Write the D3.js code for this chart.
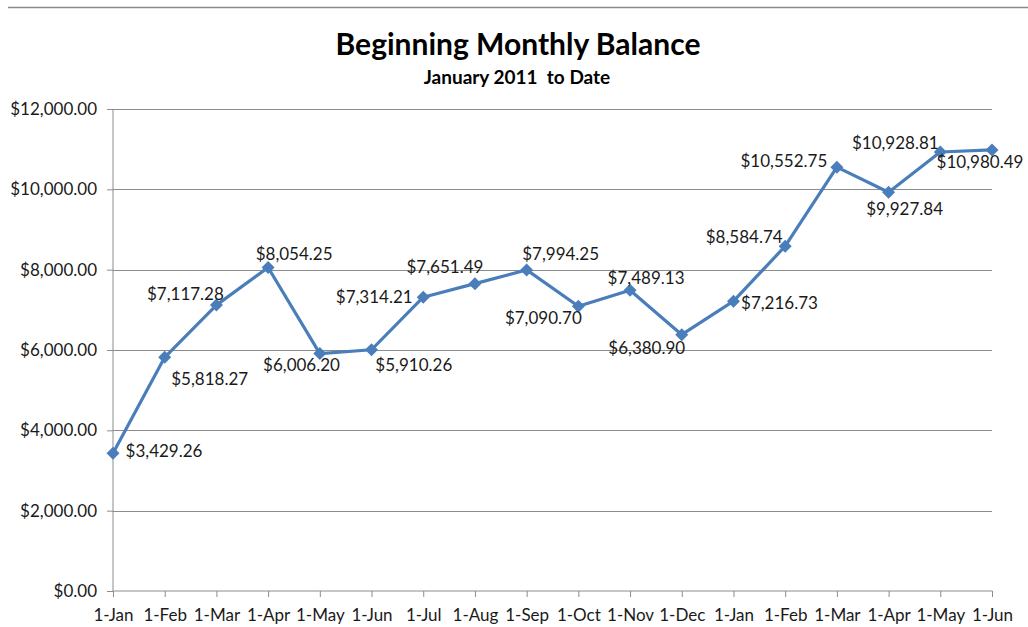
<!DOCTYPE html>
<html>
<head>
<meta charset="utf-8">
<script src="https://cdn.jsdelivr.net/npm/d3@7"></script>
<style>
  body { margin: 0; background: #fff; }
  text { font-family: Lato, "Open Sans", sans-serif; fill: #1a1a1a; }
</style>
</head>
<body>
<div id="chart"></div>
<script>
// data
const months = ["1-Jan", "1-Feb", "1-Mar", "1-Apr", "1-May", "1-Jun", "1-Jul", "1-Aug", "1-Sep",
                "1-Oct", "1-Nov", "1-Dec", "1-Jan", "1-Feb", "1-Mar", "1-Apr", "1-May", "1-Jun"];
const balances = [3429.26, 5818.27, 7117.28, 8054.25, 5910.26, 6006.20, 7314.21, 7651.49, 7994.25,
                  7090.70, 7489.13, 6380.90, 7216.73, 8584.74, 10552.75, 9927.84, 10928.81, 10980.49];
const yTicks = [0, 2000, 4000, 6000, 8000, 10000, 12000];

// where each value label sits next to its point (label layout, not data)
const labelOffsets = [
  [51, -3], [45, 21], [-31, -12], [26, -14], [94, 11], [-70, 15],
  [-49, -1], [-30, -17], [34, -16], [-35, 11], [16, -13], [-35, 13],
  [46, 1], [-41, -10], [-53, -7], [16, 16], [-45, -10], [-12, 12]
];

const W = 1028, H = 627;
const margin = { top: 109, right: 36, bottom: 36, left: 113 },
      width = W - margin.left - margin.right,
      height = H - margin.top - margin.bottom;

const svg = d3.select("#chart").append("svg")
  .attr("width", W)
  .attr("height", H);

// top border line of the chart frame
svg.append("line")
  .attr("x1", 8).attr("x2", W)
  .attr("y1", 7.5).attr("y2", 7.5)
  .attr("stroke", "#8a8a8a")
  .attr("stroke-width", 1.5);

svg.append("text")
  .attr("x", 518).attr("y", 55)
  .attr("text-anchor", "middle")
  .style("font-size", "30px")
  .style("font-weight", "bold")
  .style("fill", "#000")
  .text("Beginning Monthly Balance");

svg.append("text")
  .attr("x", 517).attr("y", 84)
  .attr("text-anchor", "middle")
  .style("font-size", "19px")
  .style("font-weight", "bold")
  .style("fill", "#000")
  .attr("xml:space", "preserve")
  .text("January 2011  to Date");

const g = svg.append("g")
  .attr("transform", `translate(${margin.left},${margin.top})`);

const x = d3.scalePoint()
  .domain(d3.range(months.length))
  .range([0, width]);

const y = d3.scaleLinear()
  .domain([0, 12000])
  .range([height, 0]);

const money = d3.format("$,.2f");

// gridlines
g.append("g")
  .selectAll("line")
  .data(yTicks.slice(1))
  .join("line")
  .attr("x1", 0).attr("x2", width)
  .attr("y1", d => Math.round(y(d)) + 0.5)
  .attr("y2", d => Math.round(y(d)) + 0.5)
  .attr("stroke", "#8c8c8c");

// axes
const yAxis = g.append("g")
  .call(d3.axisLeft(y).tickValues(yTicks).tickFormat(money).tickSize(6).tickPadding(10));

const xAxis = g.append("g")
  .attr("transform", `translate(0,${height})`)
  .call(d3.axisBottom(x).tickFormat(i => months[i]).tickSize(6).tickPadding(12));

[yAxis, xAxis].forEach(a => {
  a.attr("font-size", null).attr("font-family", null);
  a.selectAll("path, line").attr("stroke", "#8c8c8c");
  a.selectAll("text").style("font-size", "17px").style("fill", "#1a1a1a");
});
xAxis.select(".domain").attr("d", `M0.5,0H${width + 0.5}`);
yAxis.select(".domain").attr("d", `M0,${height}V0`);

// the line
const line = d3.line()
  .x((d, i) => x(i))
  .y(d => y(d));

g.append("path")
  .datum(balances)
  .attr("fill", "none")
  .attr("stroke", "#4a7ebb")
  .attr("stroke-width", 3.2)
  .attr("stroke-linejoin", "round")
  .attr("d", line);

// diamond markers
g.selectAll(".pt")
  .data(balances)
  .join("path")
  .attr("class", "pt")
  .attr("transform", (d, i) => `translate(${x(i)},${y(d)})`)
  .attr("d", "M0,-6.5L6.5,0L0,6.5L-6.5,0Z")
  .attr("fill", "#4a7ebb");

// value labels
g.selectAll(".lbl")
  .data(balances)
  .join("text")
  .attr("class", "lbl")
  .attr("x", (d, i) => x(i) + labelOffsets[i][0])
  .attr("y", (d, i) => y(d) + labelOffsets[i][1])
  .attr("text-anchor", "middle")
  .attr("dominant-baseline", "central")
  .style("font-size", "17px")
  .text(d => money(d));
</script>
</body>
</html>
